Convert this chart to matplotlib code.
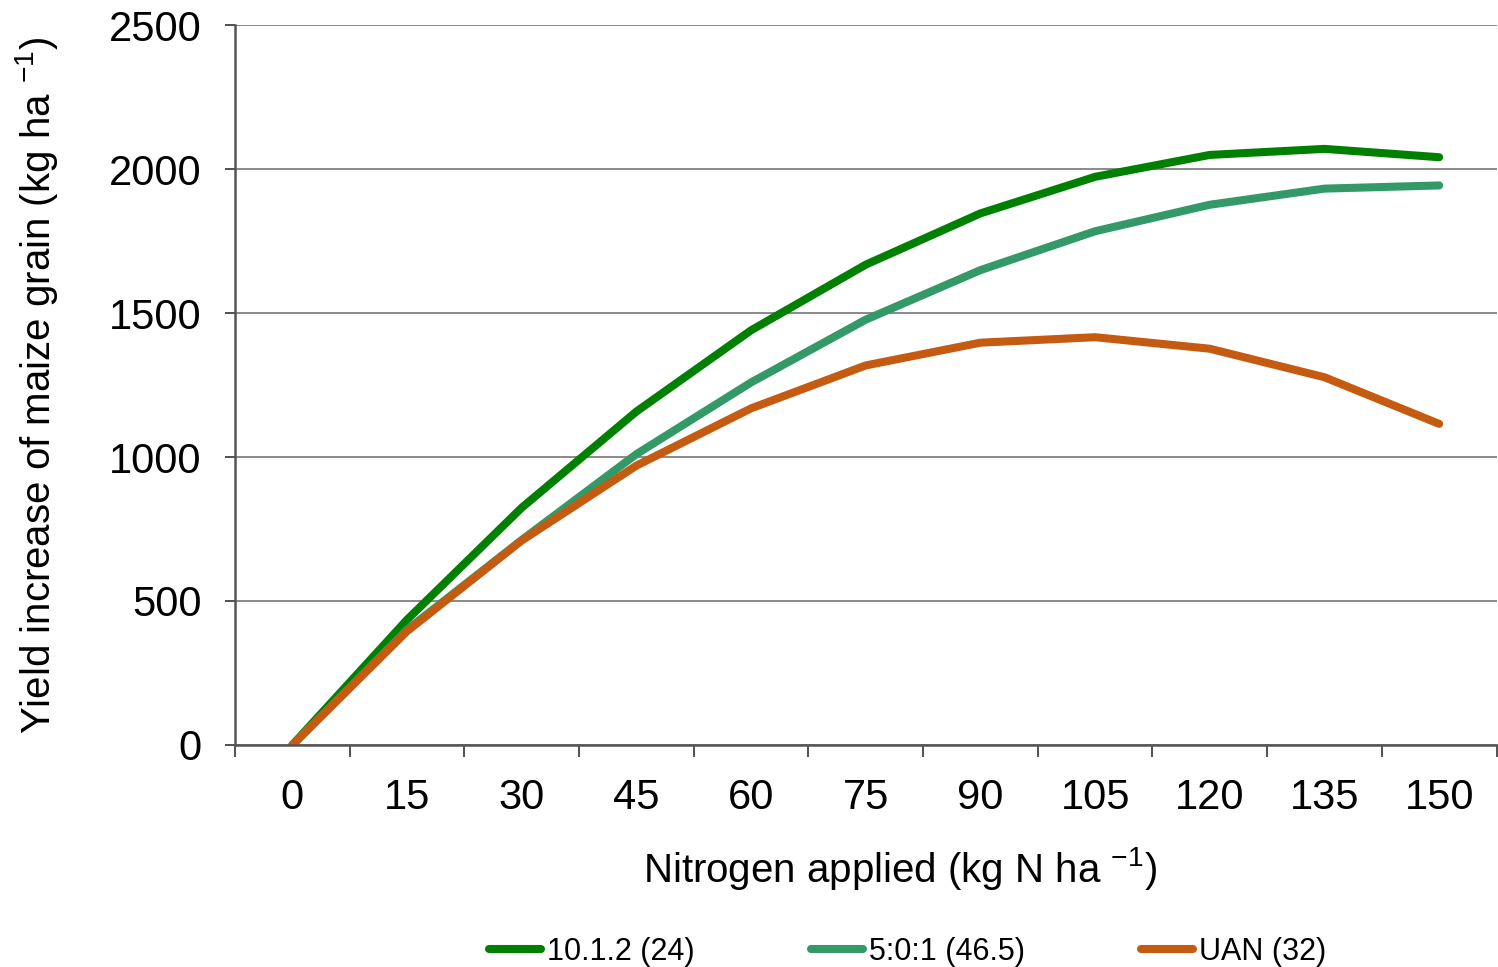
import numpy as np
import matplotlib
matplotlib.use("Agg")
import matplotlib.pyplot as plt

# ─── Data ─────────────────────────────────────────────────────────────────────
n_rates = ["0", "15", "30", "45", "60", "75", "90", "105", "120", "135", "150"]
yield_1012 = [0, 435, 824, 1158, 1440, 1668, 1846, 1973, 2049, 2070, 2041]
yield_501 = [0, 400, 712, 1010, 1259, 1477, 1649, 1784, 1876, 1932, 1943]
yield_uan = [0, 395, 710, 970, 1169, 1318, 1397, 1416, 1376, 1277, 1115]
series_labels = ["10.1.2 (24)", "5:0:1 (46.5)", "UAN (32)"]
series_colors = ["#008000", "#339966", "#C55A11"]

plt.rcParams["font.family"] = ["Liberation Sans", "DejaVu Sans"]
plt.rcParams["mathtext.fontset"] = "custom"
plt.rcParams["mathtext.rm"] = "Liberation Sans"
plt.rcParams["mathtext.it"] = "Liberation Sans"

fig = plt.figure(figsize=(14.98, 9.67), dpi=100)
ax = fig.add_axes([0.1569, 0.2296, 0.8421, 0.7445])

x = np.arange(len(n_rates))
for vals, label, color in zip([yield_1012, yield_501, yield_uan], series_labels, series_colors):
    ax.plot(x, vals, color=color, lw=5.8, label=label, solid_capstyle="round",
            solid_joinstyle="round")

ax.set_xlim(-0.5, len(n_rates) - 0.5)
ax.set_ylim(0, 2500)
ax.set_yticks(range(0, 2501, 500))
ax.set_xticks(x)
ax.set_xticklabels(n_rates)
ax.set_xticks(np.arange(-0.5, len(n_rates), 1.0), minor=True)

ax.tick_params(axis="x", which="major", length=0, labelsize=30, pad=24)
ax.tick_params(axis="x", which="minor", length=8.6, width=1.2, color="#333333", direction="out")
ax.tick_params(axis="y", length=7, width=1.2, color="#333333", labelsize=30, pad=17)

ax.grid(axis="y", color="#808080", lw=1.3)
ax.set_axisbelow(True)
for side in ["top", "right"]:
    ax.spines[side].set_visible(False)
for side in ["left", "bottom"]:
    ax.spines[side].set_color("#555555")
    ax.spines[side].set_linewidth(1.8)

ax.set_xlabel(r"Nitrogen applied (kg N ha $^{-1}$)", fontsize=29, labelpad=19)
ax.xaxis.label.set_x(0.527)
ax.set_ylabel(r"Yield increase of maize grain (kg ha $^{-1}$)", fontsize=29, labelpad=35)

fig.legend(loc="lower center", bbox_to_anchor=(0.606, -0.028), ncol=3, frameon=False,
           fontsize=22, handlelength=1.7, handletextpad=0.2, columnspacing=3.8)

fig.savefig("out.png", dpi=100)
